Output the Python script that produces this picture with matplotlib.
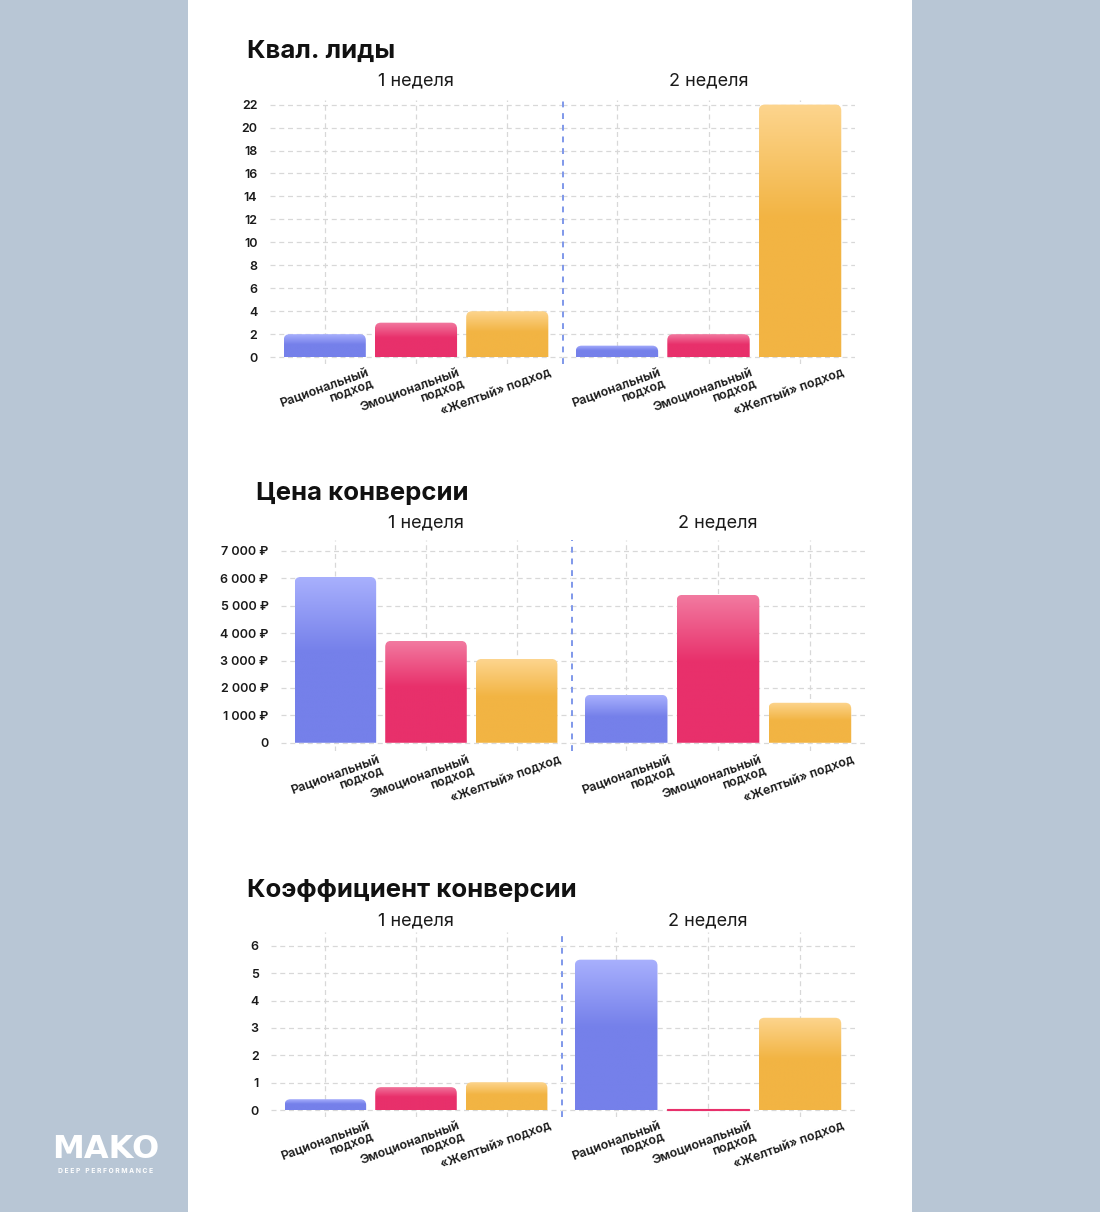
import numpy as np
import matplotlib
matplotlib.use("Agg")
import matplotlib.pyplot as plt
from matplotlib.path import Path
from matplotlib.patches import PathPatch, Rectangle
from matplotlib.transforms import ScaledTranslation

W, H = 1100, 1212
FONT = ["Inter", "DejaVu Sans"]

CATEGORIES = ["Рациональный\nподход", "Эмоциональный\nподход", "«Желтый» подход"]
WEEKS = ["1 неделя", "2 неделя"]

LEADS_W1 = [2, 3, 4]
LEADS_W2 = [1, 2, 22]
LEADS_TICKS = list(range(0, 23, 2))

COST_W1 = [6050, 3720, 3060]
COST_W2 = [1750, 5400, 1460]
COST_TICKS = list(range(0, 7001, 1000))

CR_W1 = [0.40, 0.84, 1.02]
CR_W2 = [5.49, 0.04, 3.37]
CR_TICKS = list(range(0, 7))

COLORS_MAIN = ["#7580ea", "#e8306b", "#f2b443"]
COLORS_TOP = ["#a8b0fd", "#f27aa0", "#fdd58e"]

plt.rcParams['font.family'] = FONT


def fx(x):
    return x / W


def fy(y):
    return 1 - y / H


def cost_label(v):
    if v == 0:
        return "0"
    return f"{v:,}".replace(",", " ") + " ₽"


def rounded_top(x0, w, h, rx, ry):
    x1 = x0 + w
    ry = min(ry, h)
    verts = [(x0, 0), (x0, h - ry), (x0, h), (x0 + rx, h), (x1 - rx, h),
             (x1, h), (x1, h - ry), (x1, 0), (x0, 0)]
    codes = [Path.MOVETO, Path.LINETO, Path.CURVE3, Path.CURVE3, Path.LINETO,
             Path.CURVE3, Path.CURVE3, Path.LINETO, Path.CLOSEPOLY]
    return Path(verts, codes)


def gradient_bars(ax, bars, px_x, px_y):
    for i, rect in enumerate(bars):
        x0, w, h = rect.get_x(), rect.get_width(), rect.get_height()
        rect.set_visible(False)
        if h * px_y < 4:
            # too thin for a gradient, just a coloured sliver
            ax.add_patch(Rectangle((x0, 0), w, h, facecolor=COLORS_MAIN[i],
                                   edgecolor=COLORS_MAIN[i], linewidth=0.8, zorder=2))
            continue
        patch = PathPatch(rounded_top(x0, w, h, 6 / px_x, 6 / px_y),
                          facecolor="none", edgecolor="none")
        ax.add_patch(patch)
        top = np.array(matplotlib.colors.to_rgb(COLORS_TOP[i]))
        main = np.array(matplotlib.colors.to_rgb(COLORS_MAIN[i]))
        t = np.clip(np.linspace(0, 1, 200) / 0.45, 0, 1)[:, None]
        img = (top * (1 - t) + main * t)[:, None, :]
        im = ax.imshow(img, extent=(x0, x0 + w, 0, h), origin="upper",
                       aspect="auto", interpolation="bilinear", zorder=2)
        im.set_clip_path(patch)


def draw_chart(fig, title, title_xy, sub_y, left, mid, right, top, bottom,
               w1, w2, ticks, ylim, labeler):
    xlim = (-0.6, 2.6)
    for k, (a, b, vals) in enumerate([(left, mid, w1), (mid, right, w2)]):
        ax = fig.add_axes([fx(a), fy(bottom), (b - a) / W, (bottom - top) / H])
        ax.set_facecolor("none")
        bars = ax.bar(range(3), vals, width=0.9, zorder=2)
        px_x = (b - a) / (xlim[1] - xlim[0])
        px_y = (bottom - top) / (ylim[1] - ylim[0])
        gradient_bars(ax, bars, px_x, px_y)
        ax.set_xlim(*xlim)
        ax.set_ylim(*ylim)
        for s in ax.spines.values():
            s.set_visible(False)
        ax.set_yticks(ticks)
        ax.grid(True, color="#d8d8d8", linestyle=(0, (4, 3)), linewidth=0.9, zorder=0)
        ax.set_axisbelow(True)
        ax.tick_params(length=0)
        if k == 0:
            ax.set_yticklabels([labeler(t) for t in ticks], fontsize=9,
                               fontweight="semibold", color="#1a1a1a")
            ax.tick_params(axis="y", pad=9)
        else:
            ax.set_yticklabels([])
            ax.axvline(xlim[0] + 0.01, color="#7f98ea", linestyle=(0, (3, 3)),
                       linewidth=1.4, zorder=3)
        ax.set_xticks(range(3))
        ax.set_xticklabels(CATEGORIES, rotation=20, ha="right", va="top",
                           rotation_mode="anchor", multialignment="right",
                           fontsize=9, fontweight="semibold", color="#1a1a1a",
                           linespacing=0.85)
        ax.tick_params(axis="x", pad=2)
        off = ScaledTranslation(0.42, 0, fig.dpi_scale_trans)
        for lab in ax.get_xticklabels():
            lab.set_transform(lab.get_transform() + off)
        fig.text(fx((a + b) / 2), fy(sub_y), WEEKS[k], ha="center",
                 va="center", fontsize=13, color="#1a1a1a")
    fig.text(fx(title_xy[0]), fy(title_xy[1]), title, ha="left", va="center",
             fontsize=18.5, fontweight="bold", color="#111111")


fig = plt.figure(figsize=(W / 100, H / 100), dpi=100)
fig.patch.set_facecolor("#b8c6d5")
fig.add_artist(Rectangle((fx(188), 0), (912 - 188) / W, 1, transform=fig.transFigure,
                         facecolor="white", edgecolor="none", zorder=0))

draw_chart(fig, "Квал. лиды", (247, 51), 81, 270, 562, 855, 100, 364,
           LEADS_W1, LEADS_W2, LEADS_TICKS, (-0.6, 22.4), str)
draw_chart(fig, "Цена конверсии", (256, 493), 523, 281, 571, 865, 540, 751,
           COST_W1, COST_W2, COST_TICKS, (-300, 7400), cost_label)
draw_chart(fig, "Коэффициент конверсии", (247, 891), 921, 271, 561, 855, 932, 1117,
           CR_W1, CR_W2, CR_TICKS, (-0.25, 6.5), str)

# logo
fig.text(fx(106), fy(1150), "MAKO", ha="center", va="center", fontsize=23,
         fontweight="bold", color="white", family="DejaVu Sans")
fig.text(fx(106), fy(1171), "D E E P   P E R F O R M A N C E", ha="center",
         va="center", fontsize=4.8, fontweight="bold", color="white")

fig.savefig("out.png", dpi=100, facecolor=fig.get_facecolor())
